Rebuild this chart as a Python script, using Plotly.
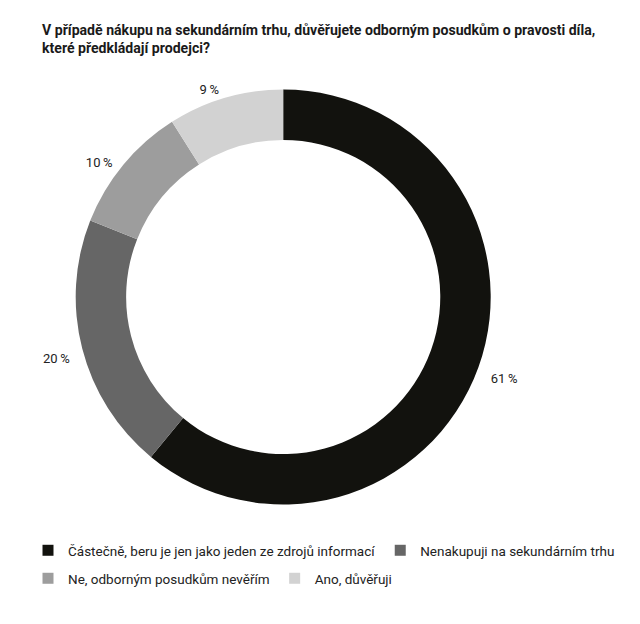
import plotly.graph_objects as go

labels = ["Částečně, beru je jen jako jeden ze zdrojů informací",
          "Nenakupuji na sekundárním trhu",
          "Ne, odborným posudkům nevěřím",
          "Ano, důvěřuji"]
values = [61, 20, 10, 9]
colors = ["#12120e", "#666666", "#9d9d9d", "#d2d2d2"]
legend_rows = ["legend", "legend", "legend2", "legend2"]

W, H = 640, 624
cx, cy, R = 283.2, 297.0, 207.5       # ring centre and outer radius (px)
cyL, RL = 304.0, 207.5 + 9            # centre / radius of the label-carrying pie

fig = go.Figure()
# the visible ring
fig.add_trace(go.Pie(
    labels=labels, values=values, sort=False, direction="clockwise", rotation=0,
    hole=0.757, marker=dict(colors=colors, line=dict(width=0)),
    textinfo="none", automargin=False, showlegend=False,
    domain=dict(x=[(cx - R) / W, (cx + R) / W], y=[1 - (cy + R) / H, 1 - (cy - R) / H]),
    hoverinfo="label+percent",
))
# transparent pie used only to carry the outside percentage labels
fig.add_trace(go.Pie(
    labels=labels, values=values, sort=False, direction="clockwise", rotation=0,
    hole=0.95, marker=dict(colors=["rgba(0,0,0,0)"] * len(values), line=dict(width=0)),
    texttemplate="%{value}\u2009%", textposition="outside",
    textfont=dict(size=13, color="#222222", family="Roboto"),
    automargin=False, showlegend=False, hoverinfo="skip",
    domain=dict(x=[(cx - RL) / W, (cx + RL) / W], y=[1 - (cyL + RL) / H, 1 - (cyL - RL) / H]),
))
# legend entries
for lab, col, lg in zip(labels, colors, legend_rows):
    fig.add_trace(go.Scatter(
        x=[None], y=[None], mode="markers", name=lab, legend=lg,
        marker=dict(symbol="square", size=11, color=col, line=dict(width=0)),
        showlegend=True, hoverinfo="skip",
    ))

legend_font = dict(size=13.5, family="Roboto", color="#222222")
fig.update_layout(
    width=W, height=H, margin=dict(l=0, r=0, t=0, b=0),
    paper_bgcolor="white", plot_bgcolor="white",
    font=dict(family="Roboto", color="#1a1a1a"),
    xaxis=dict(visible=False), yaxis=dict(visible=False),
    title=dict(text="<b>V případě nákupu na sekundárním trhu, důvěřujete odborným posudkům o pravosti díla,<br>které předkládají prodejci?</b>",
               x=42 / W, xanchor="left", y=1 - 35 / H, yanchor="top",
               font=dict(size=14.1, family="Roboto", color="#1a1a1a")),
    legend=dict(orientation="h", x=28 / W, xanchor="left", y=1 - 535 / H, yanchor="top",
                font=legend_font, itemwidth=30, itemclick=False, bgcolor="rgba(0,0,0,0)"),
    legend2=dict(orientation="h", x=28 / W, xanchor="left", y=1 - 563 / H, yanchor="top",
                 font=legend_font, itemwidth=30, itemclick=False, bgcolor="rgba(0,0,0,0)"),
)
fig.write_html("out.html")
